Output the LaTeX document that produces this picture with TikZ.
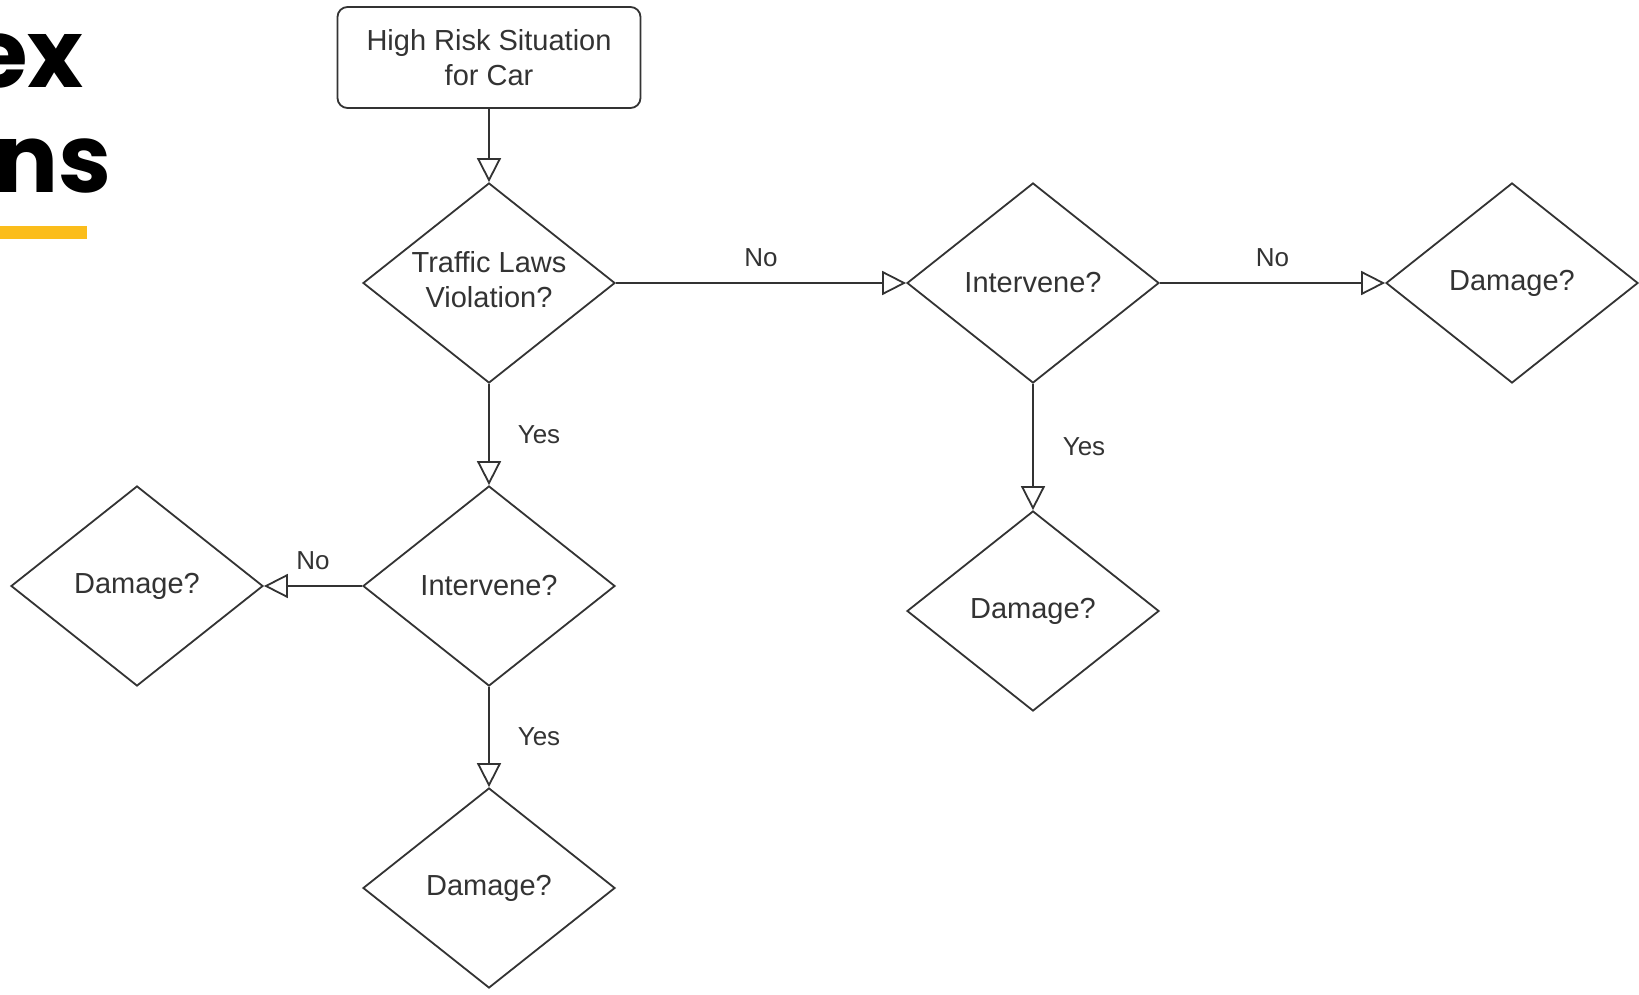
\documentclass[tikz,border=0pt]{standalone}
\usepackage{fontspec}
\setmainfont{Liberation Sans}
\newfontfamily\titlefont{Poppins}
\usetikzlibrary{shapes.geometric,arrows.meta}
\definecolor{ink}{HTML}{333333}
\definecolor{gold}{HTML}{FBBD1B}
\begin{document}
\begin{tikzpicture}[x=1pt,y=-1pt,
  dec/.style={diamond, draw=ink, line width=1.8pt, shape aspect=1.26, inner sep=0pt,
    minimum width=252pt, minimum height=200pt, align=center, text=ink,
    font=\fontsize{29}{35}\selectfont},
  startbox/.style={rectangle, rounded corners=10pt, draw=ink, line width=1.8pt,
    minimum width=303pt, minimum height=101pt, align=center, text=ink,
    font=\fontsize{29}{35}\selectfont},
  conn/.style={draw=ink, line width=1.8pt,
    -{Triangle[length=24pt,width=24pt,fill=white,line width=1.8pt]}},
  lbl/.style={font=\fontsize{26}{30}\selectfont, text=ink, inner sep=0pt},
  title/.style={font=\titlefont\bfseries\fontsize{95}{95}\selectfont, anchor=base east, inner sep=0pt, text=black}
]
\useasboundingbox[fill=white] (0,0) rectangle (1639,995);

% title fragments
\node[title] (t1) at (84,88) {ex};
\node[title] (t2) at (112,193) {ns};
\fill[gold] (0,226) rectangle (87,239);

% nodes
\node[startbox] (start) at (489,57.5) {High Risk Situation\\for Car};
\node[dec] (d1) at (489,283) {Traffic Laws\\Violation?\vphantom{g}};
\node[dec] (i1) at (1033,283) {Intervene?};
\node[dec] (dmgR) at (1512,283) {Damage?};
\node[dec] (i2) at (489,586) {Intervene?};
\node[dec] (dmgL) at (137,586) {Damage?};
\node[dec] (dmgB) at (489,888) {Damage?};
\node[dec] (dmgM) at (1033,611) {Damage?};

% connectors
\draw[conn] (start) -- (d1);
\draw[conn] (d1.east) -- node[lbl, midway, yshift=25pt] (lNo1) {No} (i1.west);
\draw[conn] (i1.east) -- node[lbl, midway, yshift=25pt] (lNo2) {No} (dmgR.west);
\draw[conn] (d1.south) -- node[lbl, midway, xshift=50pt] (lYes1) {Yes} (i2.north);
\draw[conn] (i1.south) -- node[lbl, midway, xshift=51pt] (lYes2) {Yes} (dmgM.north);
\draw[conn] (i2.west) -- node[lbl, midway, yshift=25pt] (lNo3) {No} (dmgL.east);
\draw[conn] (i2.south) -- node[lbl, midway, xshift=50pt] (lYes3) {Yes} (dmgB.north);
\end{tikzpicture}
\end{document}
